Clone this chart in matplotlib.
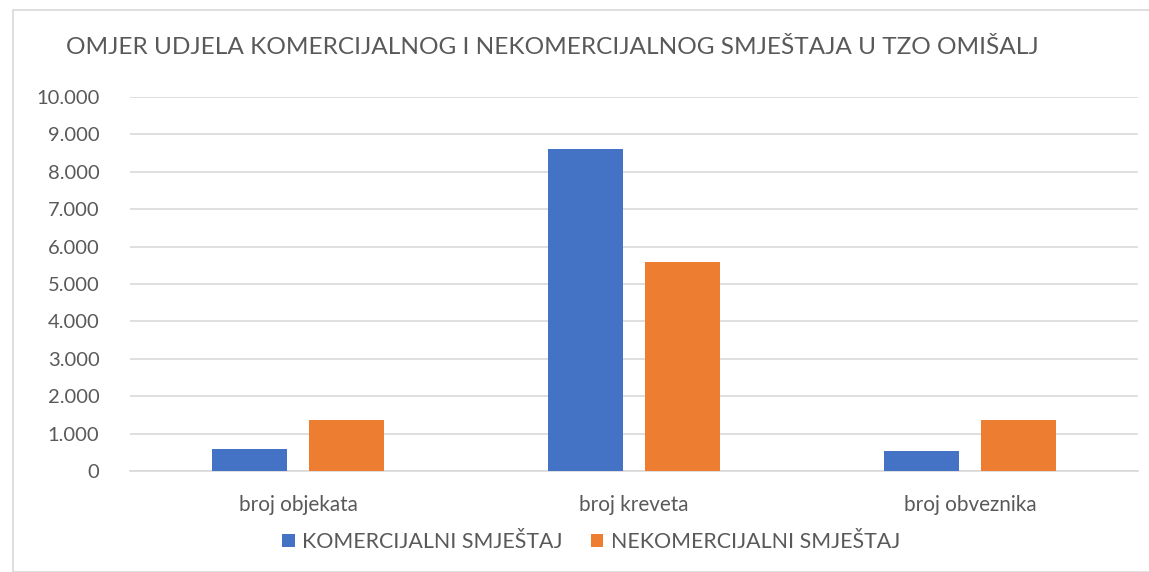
import numpy as np
import matplotlib
matplotlib.use('Agg')
import matplotlib.pyplot as plt
from matplotlib.patches import Rectangle
from matplotlib.ticker import FuncFormatter

plt.rcParams['font.family'] = ['Lato', 'DejaVu Sans']

categories = ['broj objekata', 'broj kreveta', 'broj obveznika']
komercijalni = [600, 8600, 530]
nekomercijalni = [1370, 5600, 1370]
series_names = ['KOMERCIJALNI SMJEŠTAJ', 'NEKOMERCIJALNI SMJEŠTAJ']
title = 'OMJER UDJELA KOMERCIJALNOG I NEKOMERCIJALNOG SMJEŠTAJA U TZO OMIŠALJ'

blue = '#4472C4'
orange = '#ED7D31'
grey_txt = '#595959'
grid_c = '#D9D9D9'

fig = plt.figure(figsize=(11.49, 5.72), dpi=100)
fig.patches.append(Rectangle((13 / 1149, 0.0), 1.0, 1 - 10 / 572, transform=fig.transFigure,
                             facecolor='none', edgecolor=grid_c, lw=1.2))
ax = fig.add_axes([130 / 1149, 1 - 471 / 572, 1008 / 1149, 374 / 572])

x = np.arange(len(categories))
w = 0.223
ax.bar(x - 0.143, komercijalni, w, color=blue, label=series_names[0], zorder=3)
ax.bar(x + 0.143, nekomercijalni, w, color=orange, label=series_names[1], zorder=3)

ax.set_xlim(-0.5, 2.5)
ax.set_ylim(0, 10000)
ax.set_yticks(np.arange(0, 10001, 1000))
ax.yaxis.set_major_formatter(FuncFormatter(lambda v, p: f'{int(v):,}'.replace(',', '.')))
ax.set_xticks(x)
ax.set_xticklabels(categories)
ax.grid(axis='y', color=grid_c, lw=1.2, zorder=0)
for s in ['top', 'right', 'left']:
    ax.spines[s].set_visible(False)
ax.spines['bottom'].set_color(grid_c)
ax.spines['bottom'].set_linewidth(1.2)
ax.tick_params(axis='both', length=0, labelcolor=grey_txt)
ax.tick_params(axis='y', pad=22, labelsize=14.5)
ax.tick_params(axis='x', pad=17, labelsize=14.9)

fig.text(552 / 1149, 1 - 48 / 572, title, ha='center', va='center', fontsize=17.6, color=grey_txt)
fig.legend(loc='center', bbox_to_anchor=(591 / 1149, 1 - 542 / 572), ncol=2, frameon=False,
           fontsize=15.4, labelcolor=grey_txt, handlelength=0.6, handleheight=0.6,
           columnspacing=1.3, handletextpad=0.35)

fig.savefig('out.png', dpi=100)
